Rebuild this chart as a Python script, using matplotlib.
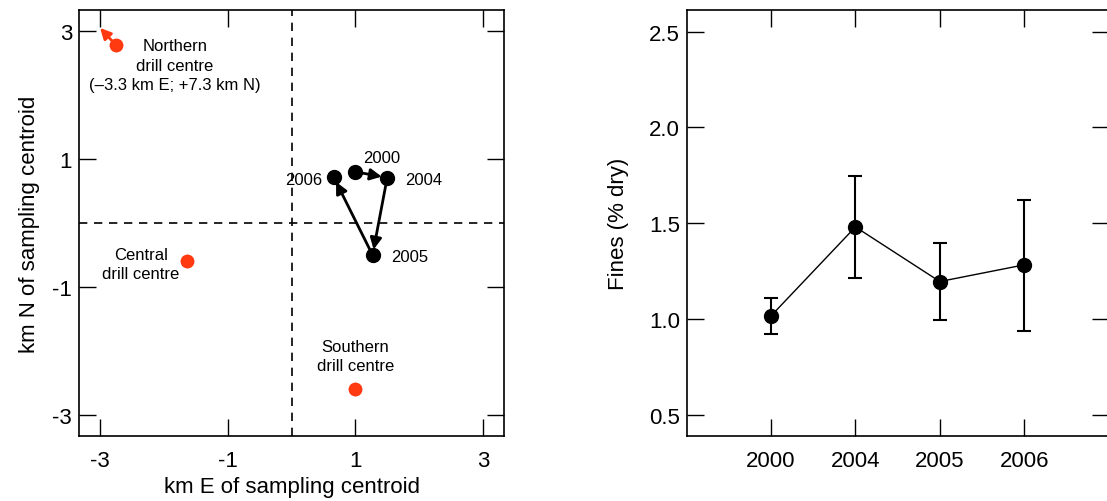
import matplotlib.pyplot as plt
import numpy as np

plt.rcParams['font.family'] = ['Liberation Sans', 'DejaVu Sans']
plt.rcParams['axes.unicode_minus'] = False

# centroid positions per survey year (km E, km N)
years = ['2000', '2004', '2005', '2006']
east = [1.0, 1.5, 1.27, 0.66]
north = [0.80, 0.71, -0.50, 0.72]

# drill centres
centre_names = ['Northern\ndrill centre\n(\u20133.3 km E; +7.3 km N)',
                'Central\ndrill centre', 'Southern\ndrill centre']
centre_e = [-2.75, -1.64, 1.0]
centre_n = [2.78, -0.60, -2.60]

# fines
fines = [1.017, 1.481, 1.196, 1.283]
fines_lo = [0.920, 1.217, 0.993, 0.939]
fines_hi = [1.109, 1.746, 1.396, 1.623]

red = '#ff3a10'

fig = plt.figure(figsize=(11.07, 5.02), dpi=100)
ax1 = fig.add_axes([79 / 1107, 1 - 437 / 502, 425 / 1107, 426 / 502])
ax2 = fig.add_axes([686.7 / 1107, 1 - 437 / 502, 421.8 / 1107, 426 / 502])

# ---- left panel: centroid movement
ax1.axvline(0, color='k', ls=(0, (5, 4)), lw=1.2)
ax1.axhline(0, color='k', ls=(0, (5, 4)), lw=1.2)

ax1.plot(centre_e, centre_n, 'o', color=red, ms=10, mec='none', zorder=3)
ax1.annotate('', xy=(-3.0, 3.05), xytext=(centre_e[0], centre_n[0]),
             arrowprops=dict(arrowstyle='-|>', color=red, lw=2,
                             mutation_scale=16, shrinkA=0, shrinkB=0))

ax1.plot(east, north, 'o', color='k', ms=10, zorder=3)
for i in range(len(years) - 1):
    ax1.annotate('', xy=(east[i + 1], north[i + 1]), xytext=(east[i], north[i]),
                 arrowprops=dict(arrowstyle='-|>', color='k', lw=2,
                                 mutation_scale=17, shrinkA=4, shrinkB=4))

ax1.text(1.42, 1.02, years[0], fontsize=12, ha='center', va='center')
ax1.text(1.78, 0.68, years[1], fontsize=12, ha='left', va='center')
ax1.text(1.56, -0.53, years[2], fontsize=12, ha='left', va='center')
ax1.text(0.48, 0.68, years[3], fontsize=12, ha='right', va='center')

ax1.text(-1.83, 2.47, centre_names[0], fontsize=12, ha='center', va='center',
         linespacing=1.4)
ax1.text(-2.36, -0.64, centre_names[1], fontsize=12, ha='center', va='center',
         linespacing=1.4)
ax1.text(1.0, -2.08, centre_names[2], fontsize=12, ha='center', va='center',
         linespacing=1.4)

ax1.set_xlim(-3.33, 3.33)
ax1.set_ylim(-3.33, 3.33)
ax1.set_xticks([-3, -1, 1, 3])
ax1.set_yticks([-3, -1, 1, 3])
ax1.tick_params(axis='x', direction='in', length=12, width=1, top=True,
                labelsize=16, pad=10)
ax1.tick_params(axis='y', direction='in', length=12, width=1, right=True,
                labelsize=16, pad=5)
ax1.set_xlabel('km E of sampling centroid', fontsize=16, labelpad=4)
ax1.set_ylabel('km N of sampling centroid', fontsize=16, labelpad=9)

# ---- right panel: fines
xpos = np.arange(1, len(years) + 1)
err = [np.array(fines) - np.array(fines_lo), np.array(fines_hi) - np.array(fines)]
ax2.errorbar(xpos, fines, yerr=err, fmt='o-', color='k', ms=10, lw=1,
             elinewidth=1.5, capsize=5, capthick=1.5)
ax2.set_xlim(0, 5)
ax2.set_ylim(0.39, 2.613)
ax2.set_xticks(xpos)
ax2.set_xticklabels(years)
ax2.set_yticks([0.5, 1.0, 1.5, 2.0, 2.5])
ax2.set_yticklabels(['0.5', '1.0', '1.5', '2.0', '2.5'])
ax2.tick_params(axis='x', direction='in', length=12, width=1, top=True,
                labelsize=16, pad=10)
ax2.tick_params(axis='y', direction='in', length=12, width=1, right=True,
                labelsize=16, pad=5)
ax2.set_ylabel('Fines (% dry)', fontsize=16, labelpad=14)

for ax in (ax1, ax2):
    for s in ax.spines.values():
        s.set_linewidth(1.2)

fig.savefig('out.png', dpi=100)
